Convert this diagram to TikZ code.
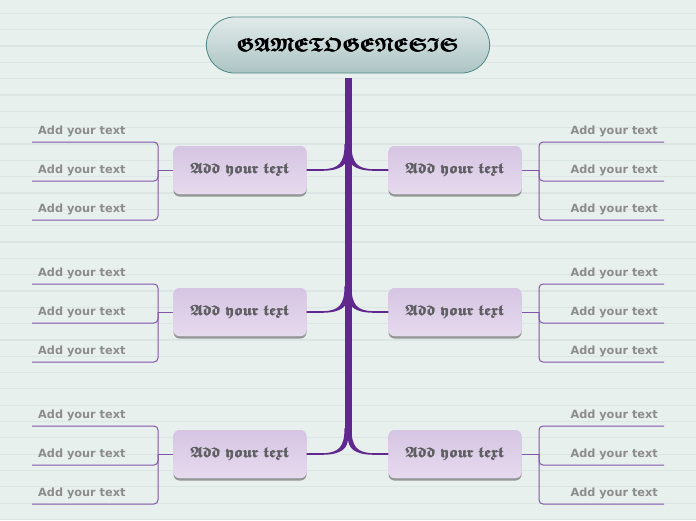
\documentclass[tikz,border=0pt]{standalone}
\usepackage{amsmath,amssymb}
\usepackage{fontspec}
\setsansfont{DejaVu Sans}
\usetikzlibrary{positioning,shadows,calc,shapes.misc}
\definecolor{paper}{RGB}{232,240,238}
\definecolor{ruling}{RGB}{219,229,227}
\definecolor{grape}{RGB}{96,40,142}
\definecolor{plum}{RGB}{130,84,170}
\definecolor{lilac}{RGB}{230,218,238}
\definecolor{slate}{RGB}{96,96,100}
\definecolor{ash}{RGB}{140,140,140}
\definecolor{sage}{RGB}{172,196,196}
\definecolor{rim}{RGB}{78,136,134}
\newcommand\gothbold[1]{{\boldmath$\pmb{\mathfrak{#1}}$}}
\tikzset{
  x=1pt,y=-1pt,
  ruled/.style={draw=ruling,line width=1.2pt},
  title/.style={rounded rectangle,draw=rim,line width=0.8pt,top color=sage!35,bottom color=sage,
    minimum width=290pt,minimum height=56pt,font=\fontsize{19}{22}\selectfont},
  branch/.style={fill=lilac,top color=lilac!88!grape,bottom color=lilac,rounded corners=6pt,
    minimum width=133pt,minimum height=48pt,text=slate,font=\fontsize{14.8}{18}\selectfont,
    drop shadow={shadow xshift=0pt,shadow yshift=-2.5pt,opacity=0.5,fill=black!75}},
  leaf/.style={font=\sffamily\bfseries\fontsize{11.3}{13}\selectfont,text=ash,
    inner xsep=6pt,inner ysep=4.5pt},
  trunk/.style={draw=grape,line width=7pt},
  twig/.style={draw=plum,line width=1pt,rounded corners=4pt},
}
\begin{document}
\begin{tikzpicture}
  \fill[paper] (0,0) rectangle (696,520);
  \useasboundingbox (0,0) rectangle (696,520);
  \foreach \k in {0,...,31} \draw[ruled] (0,13.3+16.33*\k) -- (696,13.3+16.33*\k);
  \node[title] (gt) at (348,45) {\gothbold{GAMETOGENESIS}};
  \foreach \r/\y in {1/170,2/312,3/454} {
    \coordinate (t\r) at (348,\y);
    \node[branch] (L\r) at (240,\y) {\gothbold{Add\ your\ text}};
    \node[branch] (R\r) at (455,\y) {\gothbold{Add\ your\ text}};
    \coordinate (jL\r) at (158,\y);
    \coordinate (jR\r) at (539,\y);
    \draw[twig] (L\r.west) -- (jL\r);
    \draw[twig] (R\r.east) -- (jR\r);
    \foreach \k/\d in {a/-28,b/11,c/50} {
      \node[leaf,anchor=south west] (L\r\k) at (32,\y+\d) {Add your text};
      \node[leaf,anchor=south east] (R\r\k) at (664,\y+\d) {Add your text};
      \draw[twig] (jL\r) |- (L\r\k.south west);
      \draw[twig] (jR\r) |- (R\r\k.south east);
    }
  }
  \draw[trunk] ([yshift=-5pt]gt.south) -- ($(t3)+(0,-14)$);
  % forks
  \foreach \r in {1,2,3}
    \foreach \s/\b/\a in {-1/L/east,1/R/west}
      \fill[grape] ($(t\r)+(\s*3.5,-26)$) .. controls ($(t\r)+(\s*3.5,-7)$) and ($(t\r)+(\s*9,-1)$)
        .. ($(t\r)+(\s*26,-0.8)$) -- ($(\b\r.\a)+(0,-0.8)$) -- ($(\b\r.\a)+(0,0.8)$)
        -- ($(t\r)+(\s*26,0.8)$) .. controls ($(t\r)+(\s*6,0.6)$) and ($(t\r)+(0,-6)$)
        .. ($(t\r)+(0,-16)$) -- cycle;
\end{tikzpicture}
\end{document}
